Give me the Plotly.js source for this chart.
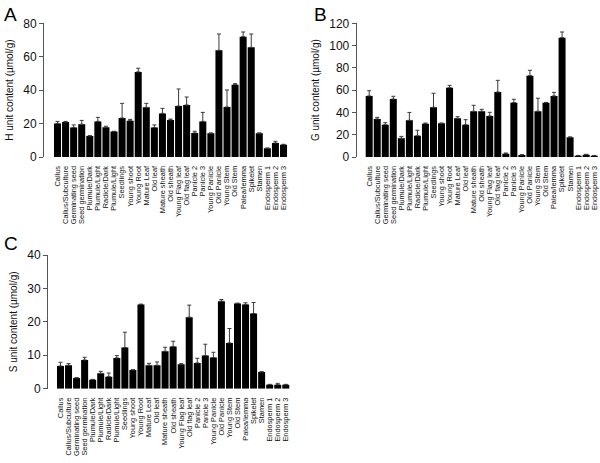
<!DOCTYPE html>
<html>
<head>
<meta charset="utf-8">
<script src="https://cdn.plot.ly/plotly-3.0.1.min.js"></script>
<style>html,body{margin:0;padding:0;background:#fff;}#chart{width:600px;height:463px;}</style>
</head>
<body>
<div id="chart"></div>
<script>
var tissues = ["Callus","Callus/Subculture","Germinating seed","Seed germination","Plumule/Dark","Plumule/Light","Radicle/Dark","Plumule/Light","Seedlings","Young shoot","Young Root","Mature Leaf","Old leaf","Mature sheath","Old sheath","Young Flag leaf","Old flag leaf","Panicle 2","Panicle 3","Young Panicle","Old Panicle","Young Stem","Old Stem","Palea/lemma","Spikelet","Stamen","Endosperm 1","Endosperm 2","Endosperm 3"];

var hValues = [20.1,20.9,17.6,19.6,12.6,21.3,17.8,15.2,23.3,21.7,50.9,29.7,17.6,26.1,22.2,30.5,31.1,14.4,21.3,14.2,63.8,29.9,43.3,72.0,65.6,14.2,5.2,8.4,7.4];
var hErrors = [1.2,0.4,1.6,2.3,0.2,2.4,0.6,0.2,8.8,0.8,2.2,2.4,1.6,3.0,0.5,10.2,4.8,1.0,5.4,0.2,9.8,10.2,0.6,2.8,8.0,0.2,0.2,1.0,0.2];

var gValues = [54.8,34.1,29.0,52.0,16.8,32.9,19.1,29.9,44.6,30.2,62.2,34.7,29.0,41.0,41.0,36.8,58.3,3.0,48.8,1.8,73.0,41.0,48.8,54.8,107.1,17.7,1.2,2.1,1.2];
var gErrors = [4.7,1.5,1.8,2.5,1.7,7.1,4.9,0.6,12.6,0.3,2.1,1.5,4.5,5.4,1.8,3.3,10.5,0.6,3.0,0.3,4.8,11.7,0.2,3.2,5.1,0.3,0.2,0.3,0.2];

var sValues = [6.8,7.0,3.2,8.6,2.7,4.6,3.6,9.2,12.3,5.6,25.2,7.0,7.0,11.2,12.6,7.3,21.4,7.7,9.9,9.3,26.2,13.7,25.5,25.2,22.5,5.0,1.2,1.2,1.2];
var sErrors = [1.1,0.5,0.1,0.8,0.1,0.6,1.1,0.7,4.6,0.1,0.1,0.6,1.0,1.2,1.6,0.2,3.6,1.4,3.4,1.6,0.5,4.3,0.1,0.5,3.3,0.1,0.1,0.4,0.1];

var yTitles = ["H unit content (\u00b5mol/g)","G unit content (\u00b5mol/g)","S unit content (\u00b5mol/g)"];
var panelLetters = ["A","B","C"];

var idx = tissues.map(function(_, i){ return i; });
var zeros = tissues.map(function(){ return 0; });
var FONT = "Liberation Sans, Arial, Helvetica, sans-serif";

function barTrace(vals, errs, xa, ya){
  return {
    type: "bar", x: idx, y: vals, xaxis: xa, yaxis: ya,
    marker: {color: "#000000", line: {width: 0}},
    error_y: {type: "data", symmetric: false, array: errs, arrayminus: zeros,
              color: "#3a3a3a", thickness: 1, width: 2},
    hoverinfo: "x+y", showlegend: false
  };
}

var data = [
  barTrace(hValues, hErrors, "x", "y"),
  barTrace(gValues, gErrors, "x2", "y2"),
  barTrace(sValues, sErrors, "x3", "y3")
];

function xAxis(domain, range, anchor){
  return {
    domain: domain, range: range, anchor: anchor,
    tickmode: "array", tickvals: idx, ticktext: tissues,
    tickangle: -90, tickfont: {family: FONT, size: 7.4, color: "#111"},
    ticks: "outside", ticklen: 5, tickcolor: "rgba(0,0,0,0)",
    showline: false, showgrid: false, zeroline: false, fixedrange: true
  };
}
function yAxis(domain, range, dtick, title, anchor){
  return {
    domain: domain, range: range, anchor: anchor, dtick: dtick,
    ticks: "outside", ticklen: 4, tickwidth: 1, tickcolor: "#555",
    tickfont: {family: FONT, size: 12, color: "#111"},
    showline: true, linecolor: "#555", linewidth: 1,
    showgrid: false, zeroline: false, fixedrange: true,
    title: {text: title, font: {family: FONT, size: 10, color: "#111"}, standoff: 7}
  };
}

var H = 463, W = 600;
function yd(top, bottom){ return [1 - bottom / H, 1 - top / H]; }

var layout = {
  width: W, height: H,
  margin: {l: 0, r: 0, t: 0, b: 0},
  paper_bgcolor: "#ffffff", plot_bgcolor: "#ffffff",
  bargap: 0.13,
  xaxis:  xAxis([44/W, 289/W], [-1.673, 28.68], "y"),
  yaxis:  yAxis(yd(23.3, 157), [0, 80], 20, yTitles[0], "x"),
  xaxis2: xAxis([356.7/W, 1], [-1.555, 28.72], "y2"),
  yaxis2: yAxis(yd(23.3, 157), [0, 120], 20, yTitles[1], "x2"),
  xaxis3: xAxis([48/W, 291/W], [-1.553, 28.65], "y3"),
  yaxis3: yAxis(yd(255, 388.7), [0, 40], 10, yTitles[2], "x3"),
  annotations: [
    {text: panelLetters[0], x: 2/W, y: 1 - 2/H, xref: "paper", yref: "paper", xanchor: "left", yanchor: "top", showarrow: false, font: {family: FONT, size: 19, color: "#000"}},
    {text: panelLetters[1], x: 312/W, y: 1 - 2/H, xref: "paper", yref: "paper", xanchor: "left", yanchor: "top", showarrow: false, font: {family: FONT, size: 19, color: "#000"}},
    {text: panelLetters[2], x: 2/W, y: 1 - 231/H, xref: "paper", yref: "paper", xanchor: "left", yanchor: "top", showarrow: false, font: {family: FONT, size: 19, color: "#000"}}
  ]
};

Plotly.newPlot("chart", data, layout, {staticPlot: true, displayModeBar: false});
</script>
</body>
</html>
